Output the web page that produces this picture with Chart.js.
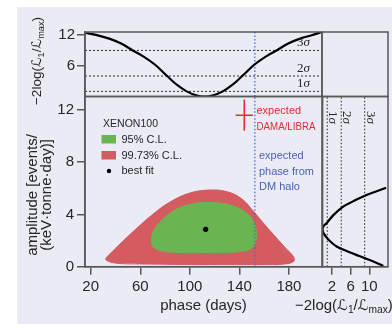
<!DOCTYPE html>
<html>
<head>
<meta charset="utf-8">
<script src="https://cdn.jsdelivr.net/npm/chart.js@4/dist/chart.umd.min.js"></script>
<style>
  html, body { margin: 0; padding: 0; background: #fff; }
  #wrap { position: relative; width: 392px; height: 324px; overflow: hidden; background: #fff; }
  #panel { position: absolute; left: 17px; top: 7px; right: 0; bottom: 0; background: #ebebf6; }
  canvas { position: absolute; left: 0; top: 0; }
</style>
</head>
<body>
<div id="wrap">
  <div id="panel"></div>
  <canvas id="cTop" width="392" height="324"></canvas>
  <canvas id="cMain" width="392" height="324"></canvas>
  <canvas id="cSide" width="392" height="324"></canvas>
</div>
<script>
// ---- data ----
const phaseTicks = [20, 60, 100, 140, 180];
const amplitudeTicks = [0, 4, 8, 12];
const profileTicks = [6, 12];
const sideTicks = [2, 6, 10];
const sigmaLevels = [1, 4, 9];
const sigmaNames = ['1', '2', '3'];

// profile likelihood in phase (top panel)
const phaseProfileDays   = [15.5, 25, 35, 45, 54, 62, 72, 81.7, 90, 97.4, 105, 112, 119, 126.6, 134, 142.3, 152, 162, 170, 179, 189, 199, 206.5];
const phaseProfileValues = [12.4, 12.0, 11.3, 10.3, 9.0, 7.9, 6.2, 4.0, 2.2, 1.0, 0.25, 0, 0.25, 1.0, 2.2, 4.0, 6.2, 7.9, 9.0, 10.3, 11.3, 12.0, 12.6];

// profile likelihood in amplitude (right panel)
const ampProfileValues = [13.0, 10.5, 8.0, 5.5, 3.0, 1.6, 0.6, 0.1, 0, 0.2, 0.9, 2.3, 4.4, 6.5, 8.7, 11.0, 13.6];
const ampProfileAmps   = [0.05, 0.45, 0.8, 1.15, 1.55, 1.95, 2.35, 2.65, 2.85, 3.1, 3.35, 3.95, 4.6, 5.0, 5.38, 5.7, 6.05];

// confidence regions (phase in days, amplitude)
const cl95Phase = [68.7, 71.1, 77.6, 88.0, 101.8, 117.9, 132.4, 143.7, 150.2, 153.4, 153.4, 150.2, 140.5, 116.3, 92.1, 77.6, 70.3, 68.7];
const cl95Amp   = [2.04, 2.81, 3.57, 4.34, 4.80, 4.92, 4.72, 4.26, 3.64, 2.89, 2.04, 1.43, 1.16, 1.09, 1.09, 1.20, 1.51, 2.04];
const cl997Phase = [32.3, 42.0, 55.8, 69.5, 84.0, 100.1, 116.3, 130.8, 142.1, 151.8, 160.5, 169.6, 177.6, 183.3, 184.1, 176.8, 156.6, 108.2, 59.8, 39.6, 32.4, 32.3];
const cl997Amp   = [0.67, 1.59, 2.82, 3.96, 4.95, 5.64, 5.87, 5.72, 5.18, 4.19, 3.22, 2.24, 1.40, 0.82, 0.44, 0.21, 0.17, 0.17, 0.21, 0.28, 0.51, 0.67];

const bestFitPhase = 112.8, bestFitAmp = 2.86;
const damaPhase = 144, damaPhaseErr = 7, damaAmp = 11.6, damaAmpErr = 1.2;
const haloPhase = 152.5;

// ---- axis ranges ----
const PHASE_MIN = 15.4, PHASE_MAX = 206.7;
const AMP_MIN = 0, AMP_MAX = 13.03;
const PROF_MIN = 0, PROF_MAX = 12.6;
const SIDE_MIN = 0, SIDE_MAX = 14;

// ---- layout (pixels) ----
const W = 392, H = 324;
const L = 85, R = 322, TOP = 32, MID = 96.5, BOT = 266.7, SL = 322.6, SR = 388;

// ---- style ----
const FONT = '"Liberation Sans", Arial, sans-serif';
const SERIF = '"Liberation Serif", "DejaVu Serif", serif';
const SCRIPT = '"DejaVu Sans", sans-serif';
const AXIS = '#585858';
const TEXT = '#262626';
const GREEN = '#6ab552';
const RED_FILL = '#d45b60';
const RED = '#e52a36';
const BLUE = '#4a63b4';
const BLUE_LINE = '#4a6cc8';

const zip = (xs, ys) => xs.map((x, i) => ({ x, y: ys[i] }));
const fixedTicks = list => scale => { scale.ticks = list.map(v => ({ value: v })); };

// draws a string made of styled runs (for subscripted math labels)
function drawRuns(ctx, runs, x, y, rotation, align) {
  ctx.save();
  ctx.translate(x, y);
  ctx.rotate(rotation);
  ctx.textBaseline = 'alphabetic';
  const size = runs.size;
  const fontOf = r => {
    const s = r.sub ? size * 0.68 : size;
    const fam = r.script ? SCRIPT : (r.serif ? SERIF : FONT);
    return (r.italic ? 'italic ' : '') + s + 'px ' + fam;
  };
  let total = 0;
  runs.parts.forEach(r => { ctx.font = fontOf(r); total += ctx.measureText(r.t).width; });
  let cx = align === 'center' ? -total / 2 : (align === 'right' ? -total : 0);
  runs.parts.forEach(r => {
    ctx.font = fontOf(r);
    ctx.fillStyle = runs.color;
    ctx.fillText(r.t, cx, r.sub ? size * 0.22 : 0);
    cx += ctx.measureText(r.t).width;
  });
  ctx.restore();
}
const likelihoodLabel = size => ({
  size, color: TEXT,
  parts: [{ t: '\u22122log(' }, { t: '\u2112', script: true, italic: true }, { t: '1', sub: true }, { t: '/' },
          { t: '\u2112', script: true, italic: true }, { t: 'max', sub: true }, { t: ')' }]
});

const framePlugin = {
  id: 'frame',
  afterDatasetsDraw(chart) {
    const { ctx, chartArea: a } = chart;
    ctx.save();
    ctx.strokeStyle = AXIS;
    ctx.lineWidth = 1.5;
    ctx.strokeRect(a.left, a.top, a.right - a.left, a.bottom - a.top);
    ctx.restore();
  }
};

const baseOptions = (padding) => ({
  responsive: false,
  animation: false,
  events: [],
  devicePixelRatio: 1,
  layout: { padding },
  plugins: { legend: { display: false }, tooltip: { enabled: false } }
});

const tickGrid = { drawOnChartArea: false, drawTicks: true, tickLength: 8, color: AXIS, lineWidth: 1.5 };
const tickFont = { family: FONT, size: 15 };

// ---- top panel: profile likelihood vs phase ----
const topOptions = baseOptions({ left: 0, top: TOP, right: W - R, bottom: H - MID });
topOptions.scales = {
  x: { type: 'linear', min: PHASE_MIN, max: PHASE_MAX, display: false },
  y: {
    type: 'linear', min: PROF_MIN, max: PROF_MAX,
    afterBuildTicks: fixedTicks(profileTicks),
    afterFit: s => { s.width = L; },
    grid: tickGrid, border: { color: AXIS, width: 1.5 },
    ticks: { color: TEXT, font: tickFont, padding: 2 }
  }
};
new Chart(document.getElementById('cTop'), {
  type: 'scatter',
  data: {
    datasets: [
      { data: zip(phaseProfileDays, phaseProfileValues), showLine: true, borderColor: '#000', borderWidth: 2.2, pointRadius: 0, tension: 0.4 },
      { data: [{ x: haloPhase, y: PROF_MIN }, { x: haloPhase, y: PROF_MAX }], showLine: true, borderColor: BLUE_LINE, borderWidth: 1.3, borderDash: [1.5, 2], pointRadius: 0 },
      ...sigmaLevels.map(v => ({ data: [{ x: PHASE_MIN, y: v }, { x: PHASE_MAX, y: v }], showLine: true, borderColor: '#333', borderWidth: 1, borderDash: [2, 2], pointRadius: 0 }))
    ]
  },
  options: topOptions,
  plugins: [framePlugin, {
    id: 'topLabels',
    afterDraw(chart) {
      const { ctx, scales: { y } } = chart;
      ctx.save();
      sigmaLevels.forEach((v, i) => {
        const py = y.getPixelForValue(v) - 4;
        ctx.textBaseline = 'alphabetic';
        ctx.font = 'italic 13px ' + SERIF;
        ctx.fillStyle = TEXT;
        ctx.textAlign = 'right';
        ctx.fillText('\u03c3', 310, py);
        const sw = ctx.measureText('\u03c3').width;
        ctx.font = '13px ' + SERIF;
        ctx.fillText(sigmaNames[i], 310 - sw, py);
      });
      ctx.restore();
      // axis title
      drawRuns(ctx, likelihoodLabel(13.5), 41, 61, -Math.PI / 2, 'center');
      // empty box to the right of the top panel
      ctx.save();
      ctx.strokeStyle = AXIS; ctx.lineWidth = 1.5;
      ctx.strokeRect(R, TOP, SR - R, MID - TOP);
      ctx.restore();
    }
  }]
});

// ---- main panel: amplitude vs phase ----
const mainOptions = baseOptions({ left: 0, top: MID, right: W - R, bottom: 0 });
mainOptions.scales = {
  x: {
    type: 'linear', min: PHASE_MIN, max: PHASE_MAX,
    afterBuildTicks: fixedTicks(phaseTicks),
    afterFit: s => { s.height = H - BOT; },
    grid: tickGrid, border: { color: AXIS, width: 1.5 },
    ticks: { color: TEXT, font: tickFont, padding: 3, maxRotation: 0, autoSkip: false },
    title: { display: true, text: 'phase (days)', color: TEXT, font: { family: FONT, size: 15, lineHeight: 1 }, padding: { top: 0, bottom: 11 } }
  },
  y: {
    type: 'linear', min: AMP_MIN, max: AMP_MAX,
    afterBuildTicks: fixedTicks(amplitudeTicks),
    afterFit: s => { s.width = L; },
    grid: tickGrid, border: { color: AXIS, width: 1.5 },
    ticks: { color: TEXT, font: tickFont, padding: 3 }
  }
};
new Chart(document.getElementById('cMain'), {
  type: 'scatter',
  data: {
    datasets: [
      { label: 'best fit', data: [{ x: bestFitPhase, y: bestFitAmp }], pointRadius: 2.6, backgroundColor: '#000', borderWidth: 0 },
      { label: 'DAMA/LIBRA phase', data: [{ x: damaPhase - damaPhaseErr, y: damaAmp }, { x: damaPhase + damaPhaseErr, y: damaAmp }], showLine: true, borderColor: RED, borderWidth: 1.6, pointRadius: 0 },
      { label: 'DAMA/LIBRA amplitude', data: [{ x: damaPhase, y: damaAmp - damaAmpErr }, { x: damaPhase, y: damaAmp + damaAmpErr }], showLine: true, borderColor: RED, borderWidth: 1.6, pointRadius: 0 },
      { label: 'DM halo phase', data: [{ x: haloPhase, y: AMP_MIN }, { x: haloPhase, y: AMP_MAX }], showLine: true, borderColor: BLUE_LINE, borderWidth: 1.3, borderDash: [1.5, 2], pointRadius: 0 },
      { label: '95% C.L.', data: zip(cl95Phase, cl95Amp), showLine: true, fill: 'shape', backgroundColor: GREEN, borderColor: GREEN, borderWidth: 1, pointRadius: 0, tension: 0.4 },
      { label: '99.73% C.L.', data: zip(cl997Phase, cl997Amp), showLine: true, fill: 'shape', backgroundColor: RED_FILL, borderColor: RED_FILL, borderWidth: 1, pointRadius: 0, tension: 0.4 }
    ]
  },
  options: mainOptions,
  plugins: [framePlugin, {
    id: 'mainLabels',
    afterDraw(chart) {
      const { ctx } = chart;
      const ds = chart.data.datasets;
      ctx.save();
      ctx.textBaseline = 'middle';
      ctx.textAlign = 'left';
      ctx.font = '11px ' + FONT;
      ctx.fillStyle = TEXT;
      // legend
      ctx.fillText('XENON100', 103, 123.5, 55);
      ctx.fillStyle = ds[4].backgroundColor; ctx.fillRect(101.5, 135, 14.5, 8.5);
      ctx.fillStyle = ds[5].backgroundColor; ctx.fillRect(101.5, 151, 14.5, 8.5);
      ctx.fillStyle = ds[0].backgroundColor;
      ctx.beginPath(); ctx.arc(109, 171, 2.2, 0, Math.PI * 2); ctx.fill();
      ctx.fillStyle = TEXT;
      ctx.fillText(ds[4].label, 121.5, 139.5);
      ctx.fillText(ds[5].label, 121.5, 155.5);
      ctx.fillText(ds[0].label, 121.5, 171);
      // annotations
      ctx.fillStyle = RED;
      ctx.fillText('expected', 256.5, 111);
      ctx.fillText('DAMA/LIBRA', 256.5, 126.5, 59);
      ctx.fillStyle = BLUE;
      ctx.fillText('expected', 259, 156);
      ctx.fillText('phase from', 259, 171.5);
      ctx.fillText('DM halo', 259, 187);
      // amplitude axis title (two lines, rotated)
      ctx.fillStyle = TEXT;
      ctx.font = '15px ' + FONT;
      ctx.textAlign = 'center';
      ctx.translate(0, 195);
      ctx.rotate(-Math.PI / 2);
      ctx.fillText('amplitude [events/', 0, 32.5);
      ctx.fillText('(keV\u00b7tonne\u00b7day)]', 0, 46.5);
      ctx.restore();
    }
  }]
});

// ---- right panel: profile likelihood vs amplitude ----
const sideOptions = baseOptions({ left: SL, top: MID, right: W - SR, bottom: 0 });
sideOptions.scales = {
  x: {
    type: 'linear', min: SIDE_MIN, max: SIDE_MAX,
    afterBuildTicks: fixedTicks(sideTicks),
    afterFit: s => { s.height = H - BOT; },
    grid: tickGrid, border: { color: AXIS, width: 1.5 },
    ticks: { color: TEXT, font: tickFont, padding: 3, maxRotation: 0, autoSkip: false }
  },
  y: { type: 'linear', min: AMP_MIN, max: AMP_MAX, display: false }
};
new Chart(document.getElementById('cSide'), {
  type: 'scatter',
  data: {
    datasets: [
      { data: zip(ampProfileValues, ampProfileAmps), showLine: true, borderColor: '#000', borderWidth: 2.2, pointRadius: 0, tension: 0.4 },
      ...sigmaLevels.map(v => ({ data: [{ x: v, y: AMP_MIN }, { x: v, y: AMP_MAX }], showLine: true, borderColor: '#444', borderWidth: 1.2, borderDash: [1.5, 2], pointRadius: 0 }))
    ]
  },
  options: sideOptions,
  plugins: [framePlugin, {
    id: 'sideLabels',
    afterDraw(chart) {
      const { ctx, scales: { x } } = chart;
      sigmaLevels.forEach((v, i) => {
        drawRuns(ctx, { size: 13, color: TEXT, parts: [{ t: sigmaNames[i], serif: true }, { t: '\u03c3', serif: true, italic: true }] },
          x.getPixelForValue(v) + 2, 111, Math.PI / 2, 'left');
      });
      drawRuns(ctx, likelihoodLabel(15), 295, 310, 0, 'left');
    }
  }]
});
</script>
</body>
</html>
